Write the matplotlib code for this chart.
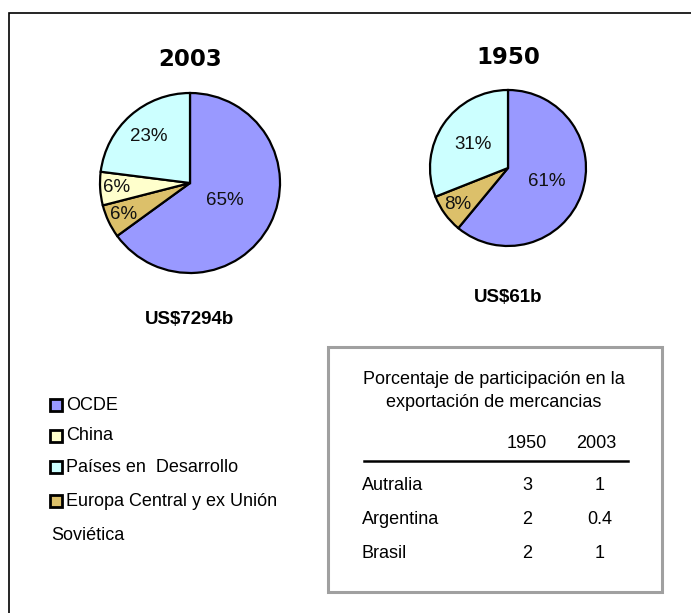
import matplotlib.pyplot as plt
from matplotlib.patches import Rectangle
import numpy as np

# data
categories = ["OCDE", "China", "Países en  Desarrollo", "Europa Central y ex Unión"]
colors = ["#9999FF", "#FFFFCC", "#CCFFFF", "#DCC06A"]
# clockwise order on the pies: OCDE, Europa, China, Paises
pie_order = [0, 3, 1, 2]
share_2003 = [65, 6, 23, 6]   # OCDE, China, Paises, Europa
share_1950 = [61, 0, 31, 8]
total_2003 = "US$7294b"
total_1950 = "US$61b"

table_title = "Porcentaje de participación en la\nexportación de mercancias"
table_years = ["1950", "2003"]
table_countries = ["Autralia", "Argentina", "Brasil"]
table_1950 = ["3", "2", "2"]
table_2003 = ["1", "0.4", "1"]

W, H = 691, 613
plt.rcParams['font.family'] = ['Liberation Sans', 'DejaVu Sans']

fig = plt.figure(figsize=(W / 100, H / 100), dpi=100)


def fx(x):
    return x / W


def fy(y):
    return 1 - y / H


# outer frame
fig.patches.append(Rectangle((fx(9), fy(700)), 720 / W, 687 / H,
                             transform=fig.transFigure, fill=False,
                             edgecolor="black", lw=1.2))


def draw_pie(cx, cy, r, values, dists, title, total, title_y, total_y):
    ax = fig.add_axes([fx(cx - r - 4), fy(cy + r + 4), (2 * r + 8) / W, (2 * r + 8) / H])
    vals = [values[i] for i in pie_order if values[i] > 0]
    cols = [colors[i] for i in pie_order if values[i] > 0]
    wedges, texts, autos = ax.pie(vals, colors=cols, startangle=90, counterclock=False,
                                  autopct="%d%%", radius=r / (r + 4),
                                  wedgeprops=dict(edgecolor="black", linewidth=1.6),
                                  textprops=dict(fontsize=13.5, color="#111111"))
    for w, t, d in zip(wedges, autos, dists):
        ang = np.deg2rad((w.theta1 + w.theta2) / 2)
        t.set_position((d * np.cos(ang), d * np.sin(ang)))
    ax.set_xlim(-1, 1)
    ax.set_ylim(-1, 1)
    ax.set_aspect("equal")
    ax.axis("off")
    fig.text(fx(cx), fy(title_y), title, ha="center", va="center",
             fontsize=16.5, fontweight="bold", family="DejaVu Sans")
    fig.text(fx(cx), fy(total_y), total, ha="center", va="center",
             fontsize=13.5, fontweight="bold")


draw_pie(190, 183, 90, share_2003, [0.42, 0.78, 0.78, 0.66], "2003", total_2003, 60, 320)
draw_pie(508, 168, 78, share_1950, [0.5, 0.76, 0.52], "1950", total_1950, 57, 298)

# legend
leg_y = [405, 436, 467, 501]
for name, col, y in zip(categories, colors, leg_y):
    fig.patches.append(Rectangle((fx(50), fy(y + 6)), 12 / W, 12 / H,
                                 transform=fig.transFigure, facecolor=col,
                                 edgecolor="black", lw=2))
    fig.text(fx(66), fy(y), name, ha="left", va="center", fontsize=13)
fig.text(fx(51), fy(535), "Soviética", ha="left", va="center", fontsize=13)

# table box
fig.patches.append(Rectangle((fx(328), fy(592)), 334 / W, 245 / H,
                             transform=fig.transFigure, fill=False,
                             edgecolor="#A0A0A0", lw=2.2))
fig.text(fx(494), fy(391), table_title, ha="center", va="center",
         fontsize=13, linespacing=1.45)
fig.text(fx(527), fy(443), table_years[0], ha="center", va="center", fontsize=13)
fig.text(fx(596), fy(443), table_years[1], ha="center", va="center", fontsize=13)
fig.add_artist(plt.Line2D([fx(364), fx(628)], [fy(461), fy(461)],
                          transform=fig.transFigure, color="black", lw=1.8))
row_y = [485, 519, 553]
for c, a, b, y in zip(table_countries, table_1950, table_2003, row_y):
    fig.text(fx(362), fy(y), c, ha="left", va="center", fontsize=13)
    fig.text(fx(527), fy(y), a, ha="center", va="center", fontsize=13)
    fig.text(fx(600), fy(y), b, ha="center", va="center", fontsize=13)

fig.savefig("out.png", dpi=100)
